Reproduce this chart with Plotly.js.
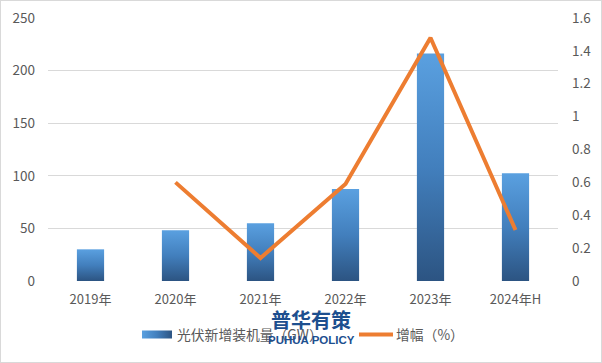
<!DOCTYPE html>
<html><head><meta charset="utf-8">
<script src="https://cdn.plot.ly/plotly-3.0.1.min.js"></script>
<style>
html,body{margin:0;padding:0;background:#fff;}
#chart{width:600px;height:361px;border:1px solid #d9d9d9;}
</style>
</head><body>
<div id="chart"></div>
<script>
const categories = ['2019年','2020年','2021年','2022年','2023年','2024年H'];
const installed = [30.1, 48.2, 54.9, 87.4, 216.3, 102.5];
const growth = [null, 0.60, 0.14, 0.59, 1.48, 0.31];
const leftTicks = [0, 50, 100, 150, 200, 250];
const rightTicks = [0, 0.2, 0.4, 0.6, 0.8, 1, 1.2, 1.4, 1.6];

const font = 'Noto Sans CJK SC, Noto Sans, sans-serif';
const grey = '#595959';

const traces = [
  {type:'bar', name:'光伏新增装机量（GW）', x:categories, y:installed,
   marker:{color:'#3f7ab8'}, yaxis:'y', hoverinfo:'x+y'},
  {type:'scatter', mode:'lines', name:'增幅（%）', x:categories, y:growth,
   line:{color:'#ED7D31', width:4}, yaxis:'y2', connectgaps:false}
];

const layout = {
  width:600, height:361,
  margin:{l:47, r:43, t:17, b:79},
  paper_bgcolor:'#fff', plot_bgcolor:'#fff',
  font:{family:font, color:grey, size:13},
  bargap:0.68,
  showlegend:true,
  legend:{orientation:'h', x:0.1745, xanchor:'left', y:-0.204, yanchor:'middle',
          font:{size:13.8, color:grey}, itemwidth:30, tracegroupgap:0, entrywidth:174},
  xaxis:{showgrid:false, zeroline:false, showline:false, ticks:'',
         tickfont:{size:13, color:grey}, ticklabelstandoff:9},
  yaxis:{range:[0,250], tickvals:leftTicks, showgrid:true, gridcolor:'#d9d9d9', gridwidth:1,
         zeroline:false, showline:false, ticks:'', tickfont:{size:13.5, color:grey},
         ticklabelstandoff:12},
  yaxis2:{range:[0,1.6], tickvals:rightTicks, overlaying:'y', side:'right', showgrid:false,
          zeroline:false, showline:false, ticks:'', tickfont:{size:13.5, color:grey},
          ticklabelstandoff:13},
  annotations:[
    {text:'<b>普华有策</b>', xref:'paper', yref:'paper', x:0.516, y:-0.147,
     xanchor:'center', yanchor:'middle', showarrow:false,
     font:{size:20, color:'#1d4f8f', family:font}},
    {text:'<b>PUHUA POLICY</b>', xref:'paper', yref:'paper', x:0.516, y:-0.226,
     xanchor:'center', yanchor:'middle', showarrow:false,
     font:{size:11.5, color:'#1d4f8f', family:'Liberation Sans Narrow, Liberation Sans, sans-serif'}}
  ]
};

Plotly.newPlot('chart', traces, layout, {displayModeBar:false, staticPlot:true}).then(gd => {
  const svg = gd.querySelector('svg.main-svg');
  const ns = 'http://www.w3.org/2000/svg';
  let defs = svg.querySelector('defs');
  if (!defs) { defs = document.createElementNS(ns,'defs'); svg.insertBefore(defs, svg.firstChild); }
  const g = document.createElementNS(ns,'linearGradient');
  g.setAttribute('id','barGrad'); g.setAttribute('x1','0'); g.setAttribute('y1','0');
  g.setAttribute('x2','0'); g.setAttribute('y2','1');
  [['0%','#5aa0e0'],['50%','#427fbd'],['100%','#2c5482']].forEach(([o,c])=>{
    const s = document.createElementNS(ns,'stop');
    s.setAttribute('offset',o); s.setAttribute('stop-color',c); g.appendChild(s);
  });
  defs.appendChild(g);
  const gh = g.cloneNode(true);
  gh.setAttribute('id','legGrad'); gh.setAttribute('x2','1'); gh.setAttribute('y2','0');
  defs.appendChild(gh);
  gd.querySelectorAll('.barlayer .point path').forEach(p => { p.style.fill = 'url(#barGrad)'; });
  gd.querySelectorAll('.legend .legendpoints .legendbar path, .legend .legendpoints path.legendundefined').forEach(p => {
    p.setAttribute('d','M-15,4H15V-4H-15Z');
    p.style.fill = 'url(#legGrad)';
  });
  gd.querySelectorAll('.legend .legendlines path').forEach(p => { p.setAttribute('d','M3,0h34'); });
});
</script>
</body></html>
